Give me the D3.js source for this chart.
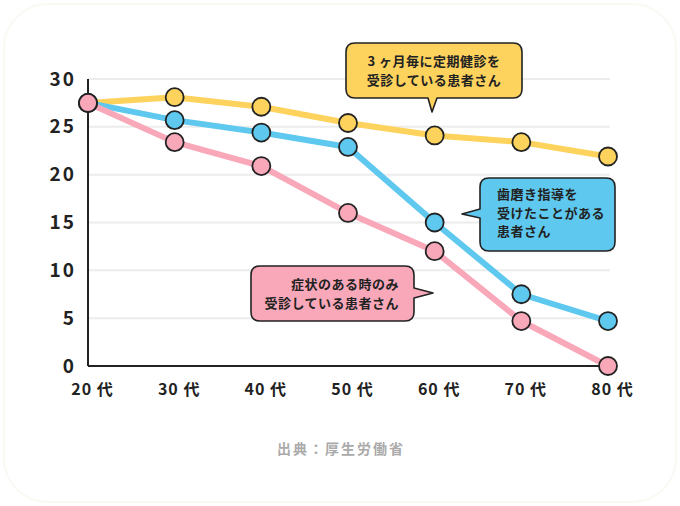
<!DOCTYPE html>
<html><head><meta charset="utf-8">
<script src="https://cdn.jsdelivr.net/npm/d3@7"></script>
<style>
html,body{margin:0;padding:0;background:#fff;}
svg{display:block;font-family:"Noto Sans CJK JP","Noto Sans",sans-serif;}
</style></head>
<body>
<svg id="chart" width="680" height="506"></svg>
<script>
const categories = ["20代","30代","40代","50代","60代","70代","80代"];
const tickLabels = ["20 代","30 代","40 代","50 代","60 代","70 代","80 代"];
const yTicks = [0,5,10,15,20,25,30];
const regularCheckup = [27.5,28.1,27.1,25.4,24.1,23.4,21.9];
const brushingGuided = [27.5,25.7,24.4,22.9,15.0,7.5,4.7];
const symptomOnly   = [27.5,23.4,20.9,16.0,12.0,4.7,0.0];
const seriesNames = ["3 ヶ月毎に定期健診を\n受診している患者さん","歯磨き指導を\n受けたことがある\n患者さん","症状のある時のみ\n受診している患者さん"];
const sourceText = "出典：厚生労働省";

const svg = d3.select("#chart");
const W = 680, H = 506;
const m = {left:88, right:72, top:79, bottom:140};

svg.append("rect").attr("x",4).attr("y",4).attr("width",W-8).attr("height",H-8)
  .attr("rx",44).attr("fill","#fff").attr("stroke","#f7fbf4").attr("stroke-width",2);

const x = d3.scalePoint().domain(categories).range([m.left, W-m.right]);
const y = d3.scaleLinear().domain([0,30]).range([H-m.bottom, m.top]);

// gridlines
svg.append("g").selectAll("line").data(yTicks.filter(d=>d>0)).join("line")
  .attr("x1",m.left).attr("x2",W-m.right+2)
  .attr("y1",d=>y(d)).attr("y2",d=>y(d))
  .attr("stroke","#ececec").attr("stroke-width",2);

// y tick labels
const yAxis = svg.append("g").attr("transform",`translate(${m.left},0)`)
  .call(d3.axisLeft(y).tickValues(yTicks).tickSize(0).tickPadding(12));
yAxis.select(".domain").remove();
yAxis.selectAll("text").attr("font-size",19).attr("font-weight",700).attr("fill","#222")
  .attr("font-family","'Noto Sans CJK JP',sans-serif").style("letter-spacing","2px");

// x tick labels
const xAxis = svg.append("g").attr("transform",`translate(0,${y(0)})`)
  .call(d3.axisBottom(x).tickSize(0).tickPadding(18).tickFormat((d,i)=>tickLabels[i]));
xAxis.select(".domain").remove();
xAxis.selectAll("text").attr("font-size",16).attr("font-weight",700).attr("fill","#222")
  .attr("font-family","'Noto Sans CJK JP',sans-serif").style("letter-spacing","1px")
  .attr("dx",4);

// axis lines
svg.append("line").attr("x1",m.left).attr("x2",m.left).attr("y1",y(30)).attr("y2",y(0))
  .attr("stroke","#222").attr("stroke-width",2);
svg.append("line").attr("x1",m.left).attr("x2",W-m.right).attr("y1",y(0)).attr("y2",y(0))
  .attr("stroke","#222").attr("stroke-width",2);

const series = [
  {values:regularCheckup, color:"#fdd35e"},
  {values:brushingGuided, color:"#5ec8ef"},
  {values:symptomOnly, color:"#f9a8ba"}
];
const line = d3.line().x((d,i)=>x(categories[i])).y(d=>y(d));
series.forEach(s=>{
  svg.append("path").datum(s.values).attr("d",line).attr("fill","none")
    .attr("stroke",s.color).attr("stroke-width",6).attr("stroke-linejoin","round");
});
series.forEach(s=>{
  svg.append("g").selectAll("circle").data(s.values).join("circle")
    .attr("cx",(d,i)=>x(categories[i])).attr("cy",d=>y(d)).attr("r",9)
    .attr("fill",s.color).attr("stroke","#222").attr("stroke-width",1.8);
});

// callouts
function bubble(bx,by,bw,bh,tail,fill){
  const r=9, xr=bx+bw, yb=by+bh;
  let p = `M${bx+r},${by}`;
  p += ` H${xr-r} Q${xr},${by} ${xr},${by+r}`;
  if(tail.side==="right"){ p += ` V${tail.a} L${tail.tx},${tail.ty} L${xr},${tail.b}`; }
  p += ` V${yb-r} Q${xr},${yb} ${xr-r},${yb}`;
  if(tail.side==="bottom"){ p += ` H${tail.b} L${tail.tx},${tail.ty} L${tail.a},${yb}`; }
  p += ` H${bx+r} Q${bx},${yb} ${bx},${yb-r}`;
  if(tail.side==="left"){ p += ` V${tail.b} L${tail.tx},${tail.ty} L${bx},${tail.a}`; }
  p += ` V${by+r} Q${bx},${by} ${bx+r},${by} Z`;
  svg.append("path").attr("d",p).attr("fill",fill).attr("stroke","#222").attr("stroke-width",1.6)
    .attr("stroke-linejoin","round");
}
function label(txt,tx,ty,anchor,lh){
  const t = svg.append("text").attr("x",tx).attr("y",ty).attr("text-anchor",anchor)
    .attr("font-size",13).attr("font-weight",700).attr("fill","#222").style("letter-spacing","0.5px");
  txt.split("\n").forEach((s,i)=>t.append("tspan").attr("x",tx).attr("dy",i?lh:0).text(s));
}
bubble(346,43,176,55,{side:"bottom",a:428,b:437,tx:432,ty:112},"#fdd35e");
label(seriesNames[0],434,66,"middle",18.5);
bubble(480,178,135,73,{side:"left",a:209,b:218,tx:462,ty:214},"#5ec8ef");
label(seriesNames[1],497,199,"start",18.5);
bubble(251,266,163,55,{side:"right",a:288,b:298,tx:433,ty:293},"#f9a8ba");
label(seriesNames[2],399,289,"end",18.5);

svg.append("text").attr("x",341).attr("y",454).attr("text-anchor","middle")
  .attr("font-size",14).attr("font-weight",700).attr("fill","#aaaaaa")
  .style("letter-spacing","2px").text(sourceText);
</script>
</body></html>
